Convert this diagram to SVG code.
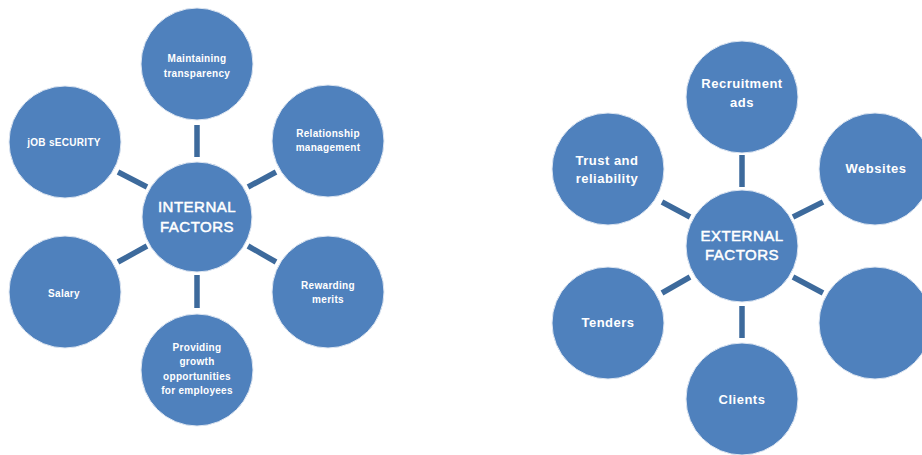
<svg xmlns="http://www.w3.org/2000/svg" width="922" height="455" viewBox="0 0 922 455">
<style>
.n{fill:#4f81bd;stroke:#dfe7f2;stroke-width:1}
.c line{stroke:#3d6a9c;stroke-width:5.5}
text{fill:#ffffff;font-family:"Liberation Sans",Arial,sans-serif;text-anchor:middle}
.s{font-size:10px;font-weight:bold;letter-spacing:0.3px}
.m{font-size:13px;font-weight:bold;letter-spacing:0.5px}
.h{font-size:15px;letter-spacing:0.5px;stroke:#ffffff;stroke-width:0.5}
</style>
<rect width="922" height="455" fill="#ffffff"/>
<g id="connectors" class="c">
<line x1="197" y1="125" x2="197" y2="157"/>
<line x1="118" y1="172" x2="147" y2="187"/>
<line x1="248" y1="187" x2="276" y2="172"/>
<line x1="118" y1="262" x2="147" y2="246"/>
<line x1="248" y1="246" x2="276" y2="262"/>
<line x1="197" y1="275" x2="197" y2="308"/>
<line x1="742" y1="155" x2="742" y2="187"/>
<line x1="662" y1="202" x2="690" y2="217"/>
<line x1="793" y1="217" x2="823" y2="202"/>
<line x1="662" y1="293" x2="690" y2="277"/>
<line x1="793" y1="277" x2="823" y2="293"/>
<line x1="742" y1="306" x2="742" y2="338"/>
</g>
<g id="internal">
<circle class="n" cx="197" cy="217" r="55"/>
<text class="h" x="197" y="212">INTERNAL</text>
<text class="h" x="197" y="232">FACTORS</text>
</g>
<g id="transparency">
<circle class="n" cx="197" cy="64" r="56"/>
<text class="s" x="197" y="62">Maintaining</text>
<text class="s" x="197" y="77">transparency</text>
</g>
<g id="jobsecurity">
<circle class="n" cx="65" cy="142" r="56"/>
<text class="s" x="64" y="146">jOB sECURITY</text>
</g>
<g id="relationship">
<circle class="n" cx="328" cy="141" r="56"/>
<text class="s" x="328" y="137">Relationship</text>
<text class="s" x="328" y="151">management</text>
</g>
<g id="salary">
<circle class="n" cx="65" cy="292" r="56"/>
<text class="s" x="64" y="297">Salary</text>
</g>
<g id="rewarding">
<circle class="n" cx="328" cy="292" r="56"/>
<text class="s" x="328" y="289">Rewarding</text>
<text class="s" x="328" y="303">merits</text>
</g>
<g id="growth">
<circle class="n" cx="197" cy="370" r="56"/>
<text class="s" x="197" y="351">Providing</text>
<text class="s" x="197" y="365">growth</text>
<text class="s" x="197" y="380">opportunities</text>
<text class="s" x="197" y="394">for employees</text>
</g>
<g id="external">
<circle class="n" cx="742" cy="246" r="56"/>
<text class="h" x="742" y="241">EXTERNAL</text>
<text class="h" x="742" y="260">FACTORS</text>
</g>
<g id="recruitment">
<circle class="n" cx="742" cy="97" r="56"/>
<text class="m" x="742" y="88">Recruitment</text>
<text class="m" x="742" y="107">ads</text>
</g>
<g id="trust">
<circle class="n" cx="608" cy="169" r="56"/>
<text class="m" x="607" y="165">Trust and</text>
<text class="m" x="607" y="183">reliability</text>
</g>
<g id="websites">
<circle class="n" cx="875" cy="169" r="56"/>
<text class="m" x="876" y="173">Websites</text>
</g>
<g id="tenders">
<circle class="n" cx="608" cy="323" r="56"/>
<text class="m" x="608" y="327">Tenders</text>
</g>
<g id="blank">
<circle class="n" cx="875" cy="323" r="56"/>
</g>
<g id="clients">
<circle class="n" cx="742" cy="399" r="56"/>
<text class="m" x="742" y="404">Clients</text>
</g>
</svg>
